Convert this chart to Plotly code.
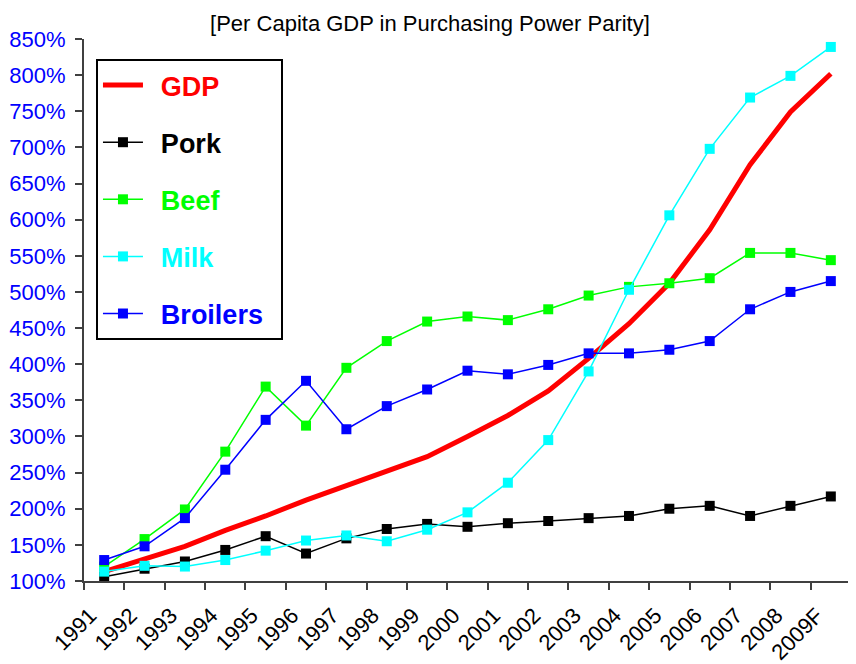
import plotly.graph_objects as go

years = ["1991", "1992", "1993", "1994", "1995", "1996", "1997", "1998", "1999", "2000",
         "2001", "2002", "2003", "2004", "2005", "2006", "2007", "2008", "2009F"]

gdp = [113, 130, 148, 170, 190, 212, 232, 251, 272, 300, 329, 363, 408, 456, 512, 586, 676, 749, 802]
pork = [106, 117, 127, 143, 162, 138, 159, 172, 179, 175, 180, 183, 187, 190, 200, 204, 190, 204, 217]
beef = [120, 158, 199, 279, 369, 315, 395, 432, 459, 466, 461, 476, 495, 507, 512, 519, 554, 554, 544]
milk = [113, 121, 120, 129, 142, 156, 163, 155, 171, 195, 236, 295, 390, 503, 606, 698, 769, 799, 839]
broilers = [129, 148, 187, 254, 323, 377, 310, 342, 365, 391, 386, 399, 415, 415, 420, 432, 476, 500, 515]

yticks = [100, 150, 200, 250, 300, 350, 400, 450, 500, 550, 600, 650, 700, 750, 800, 850]

FONT = "Liberation Sans, Arial, sans-serif"

fig = go.Figure()

def label(text, color):
    return f"<b><span style='color:{color}'>\u2009 {text} \u2009</span></b>"

fig.add_trace(go.Scatter(x=years, y=gdp, mode="lines", name=label("GDP", "#FF0000"),
                         line=dict(color="#FF0000", width=5), legendgroup="g1"))
fig.add_trace(go.Scatter(x=years, y=pork, mode="lines+markers", name=label("Pork", "#000000"),
                         line=dict(color="#000000", width=1.5),
                         marker=dict(symbol="square", size=10, color="#000000"), legendgroup="g2"))
fig.add_trace(go.Scatter(x=years, y=beef, mode="lines+markers", name=label("Beef", "#00FF00"),
                         line=dict(color="#00FF00", width=1.5),
                         marker=dict(symbol="square", size=10, color="#00FF00"), legendgroup="g3"))
fig.add_trace(go.Scatter(x=years, y=milk, mode="lines+markers", name=label("Milk", "#00FFFF"),
                         line=dict(color="#00FFFF", width=1.5),
                         marker=dict(symbol="square", size=10, color="#00FFFF"), legendgroup="g4"))
fig.add_trace(go.Scatter(x=years, y=broilers, mode="lines+markers", name=label("Broilers", "#0000FF"),
                         line=dict(color="#0000FF", width=1.5),
                         marker=dict(symbol="square", size=10, color="#0000FF"), legendgroup="g5"))

fig.update_layout(
    width=848, height=656,
    margin=dict(l=76, r=5, t=31, b=83, autoexpand=False),
    paper_bgcolor="white", plot_bgcolor="white",
    font=dict(family=FONT),
    title=dict(text="[Per Capita GDP in Purchasing Power Parity]",
               x=0.4976, xanchor="center", y=0.976, yanchor="middle",
               font=dict(size=22, color="black", family=FONT)),
    showlegend=True,
    legend=dict(x=0.0156, y=0.963, xanchor="left", yanchor="top",
                bgcolor="white", bordercolor="black", borderwidth=2,
                font=dict(size=27, family=FONT),
                tracegroupgap=19, itemwidth=40),
    xaxis=dict(type="category", categoryorder="array", categoryarray=years,
               range=[-0.5, len(years) - 0.5], automargin=False,
               showgrid=False, showline=True, linecolor="#404040", linewidth=2,
               ticks="outside", tickson="boundaries", ticklen=7, tickcolor="#404040", tickwidth=2,
               tickangle=-45, ticklabelstandoff=11, ticklabelshift=-14,
               tickfont=dict(size=22, color="black", family=FONT)),
    yaxis=dict(range=[100, 850], tickvals=yticks, ticktext=[f"{v}%" for v in yticks],
               automargin=False,
               showgrid=False, zeroline=False, showline=True, linecolor="#404040", linewidth=2,
               ticks="outside", ticklen=7, tickcolor="#404040", tickwidth=2,
               ticklabelstandoff=5,
               tickfont=dict(size=22, color="#0000FF", family=FONT)),
)

fig.write_html("out.html")
